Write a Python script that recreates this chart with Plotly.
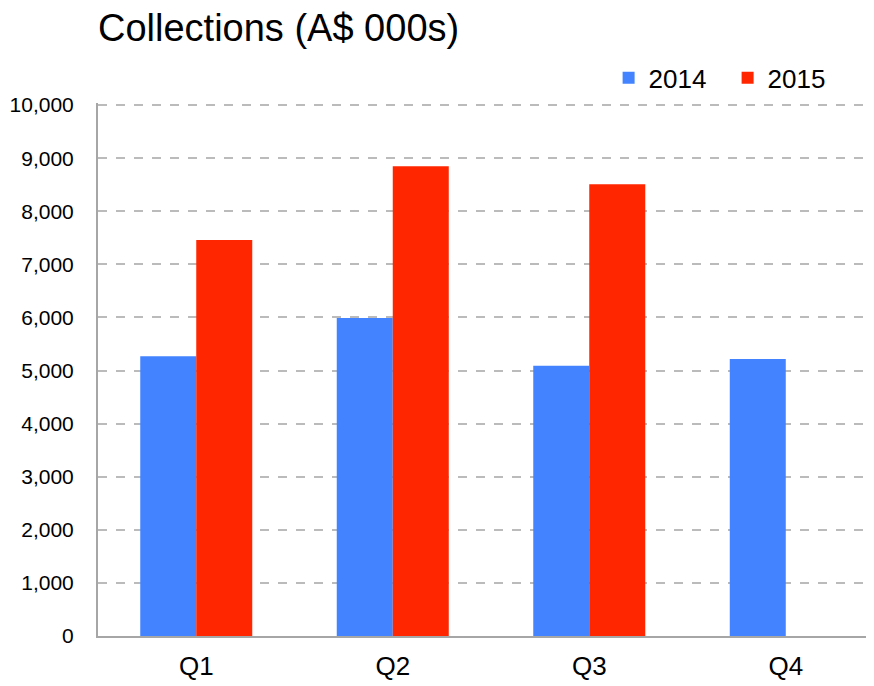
import plotly.graph_objects as go

quarters = ["Q1", "Q2", "Q3", "Q4"]
values_2014 = [5270, 5990, 5090, 5220]
values_2015 = [7460, 8850, 8510, None]
series_names = ["2014", "2015"]
y_tick_vals = [0, 1000, 2000, 3000, 4000, 5000, 6000, 7000, 8000, 9000, 10000]
y_tick_text = ["0", "1,000", "2,000", "3,000", "4,000", "5,000", "6,000", "7,000", "8,000", "9,000", "10,000"]

FONT = "Liberation Sans, Arial, sans-serif"

fig = go.Figure()
fig.add_trace(go.Bar(x=quarters, y=values_2014, name=series_names[0],
                     marker=dict(color="#4383FF", line=dict(width=0))))
fig.add_trace(go.Bar(x=quarters, y=values_2015, name=series_names[1],
                     marker=dict(color="#FF2600", line=dict(width=0))))

# page body has an 8px margin, so figure is 8px smaller and offsets compensate
fig.update_layout(
    width=866, height=678,
    margin=dict(l=90, r=0, t=95, b=50),
    paper_bgcolor="white", plot_bgcolor="white",
    barmode="group", bargap=0.43, bargroupgap=0,
    font=dict(family=FONT, color="#000000"),
    title=dict(text="Collections (A$ 000s)", x=0.0, xref="paper", xanchor="left",
               y=1 - 20 / 678, yref="container", yanchor="middle",
               font=dict(size=38, family=FONT, color="#000000")),
    legend=dict(orientation="h", x=0.658, xanchor="left", y=1.047, yanchor="middle",
                font=dict(size=26, family=FONT), itemwidth=30, traceorder="normal",
                entrywidth=74, entrywidthmode="pixels",
                bgcolor="rgba(0,0,0,0)"),
    xaxis=dict(range=[-0.5, 3.449], showgrid=False, showline=True, linecolor="#A6A6A6",
               linewidth=2, ticks="", tickfont=dict(size=26, family=FONT),
               ticklabelstandoff=6, zeroline=False),
    yaxis=dict(range=[0, 10040], tickvals=y_tick_vals, ticktext=y_tick_text,
               showgrid=True, gridcolor="#BBBBBB", griddash="dash", gridwidth=1.5,
               showline=True, linecolor="#A6A6A6", linewidth=2, ticks="",
               tickfont=dict(size=21, family=FONT), ticklabelstandoff=18,
               zeroline=False),
)

fig.write_html("out.html")
